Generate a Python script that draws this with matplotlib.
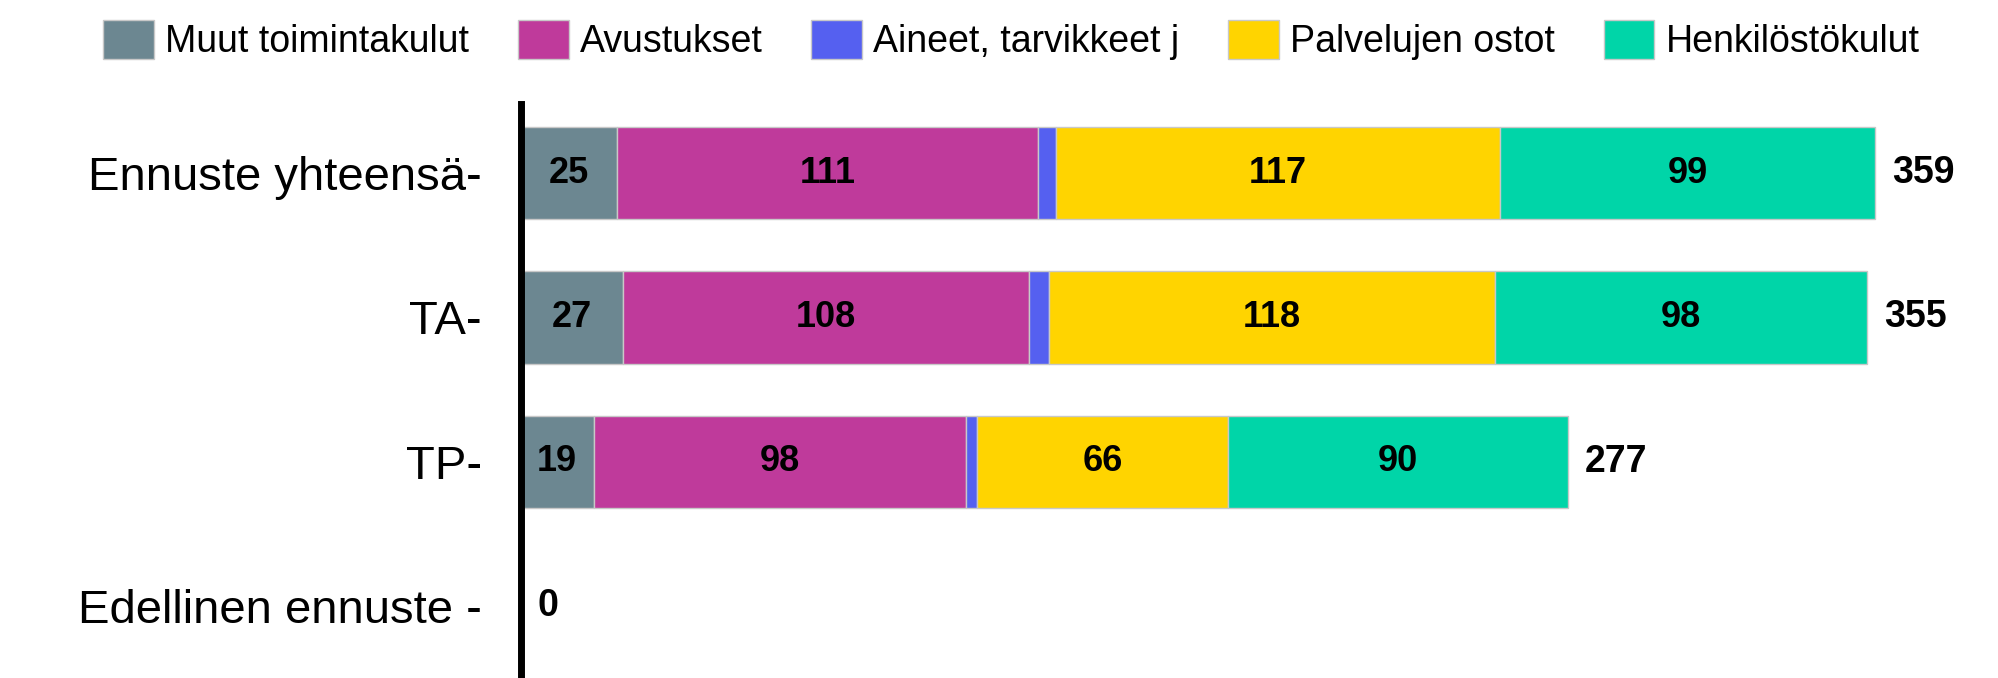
import matplotlib.pyplot as plt
import numpy as np

plt.rcParams['font.family'] = ['Liberation Sans', 'DejaVu Sans']

categories = ["Ennuste yhteensä-", "TA-", "TP-", "Edellinen ennuste -"]
series = ["Muut toimintakulut", "Avustukset", "Aineet, tarvikkeet j",
          "Palvelujen ostot", "Henkilöstökulut"]
muut = [25.4, 27.0, 19.2, 0]
avustukset = [111.4, 107.5, 98.4, 0]
aineet = [4.7, 5.2, 3.0, 0]
palvelut = [117.4, 118.0, 66.4, 0]
henkilosto = [99.4, 98.4, 90.0, 0]
totals = [359, 355, 277, 0]
colors = ["#6C8791", "#BF3A9B", "#5560F0", "#FFD400", "#00D5A8"]
show_label = [True, True, False, True, True]

values = [muut, avustukset, aineet, palvelut, henkilosto]

fig = plt.figure(figsize=(19.99, 6.78), dpi=100)
ax = fig.add_axes([0.2606, 0.0, 0.73, 0.8466])

y = np.arange(len(categories))
left = np.zeros(len(categories))
for name, vals, col, lab in zip(series, values, colors, show_label):
    vals = np.array(vals, dtype=float)
    bars = ax.barh(y, vals, left=left, height=0.64, color=col,
                   edgecolor="#c8c8c8", linewidth=1, label=name)
    if lab:
        for b, v in zip(bars, vals):
            if v > 0:
                ax.text(b.get_x() + b.get_width() / 2, b.get_y() + b.get_height() / 2,
                        f"{v:.0f}", ha="center", va="center",
                        fontsize=26, fontweight="bold", color="black")
    left += vals

for yi, (l, t) in enumerate(zip(left, totals)):
    ax.annotate(f"{t}", xy=(l, yi), xytext=(12, 0), textcoords="offset points",
                ha="left", va="center", fontsize=27, fontweight="bold")

ax.set_xlim(0, 386)
ax.set_ylim(3.5, -0.48)
ax.set_yticks(y)
ax.set_yticklabels(categories, fontsize=34)
ax.tick_params(axis="y", length=0, pad=28)
ax.set_xticks([])
for s in ["top", "right", "bottom"]:
    ax.spines[s].set_visible(False)
ax.spines["left"].set_linewidth(5)
ax.spines["left"].set_color("black")

fig.legend(loc="center", bbox_to_anchor=(0.506, 0.941), ncol=5, frameon=False,
           fontsize=27, handlelength=1.35, handleheight=1.2, handletextpad=0.3,
           columnspacing=1.3)

fig.savefig("out.png", dpi=100)
